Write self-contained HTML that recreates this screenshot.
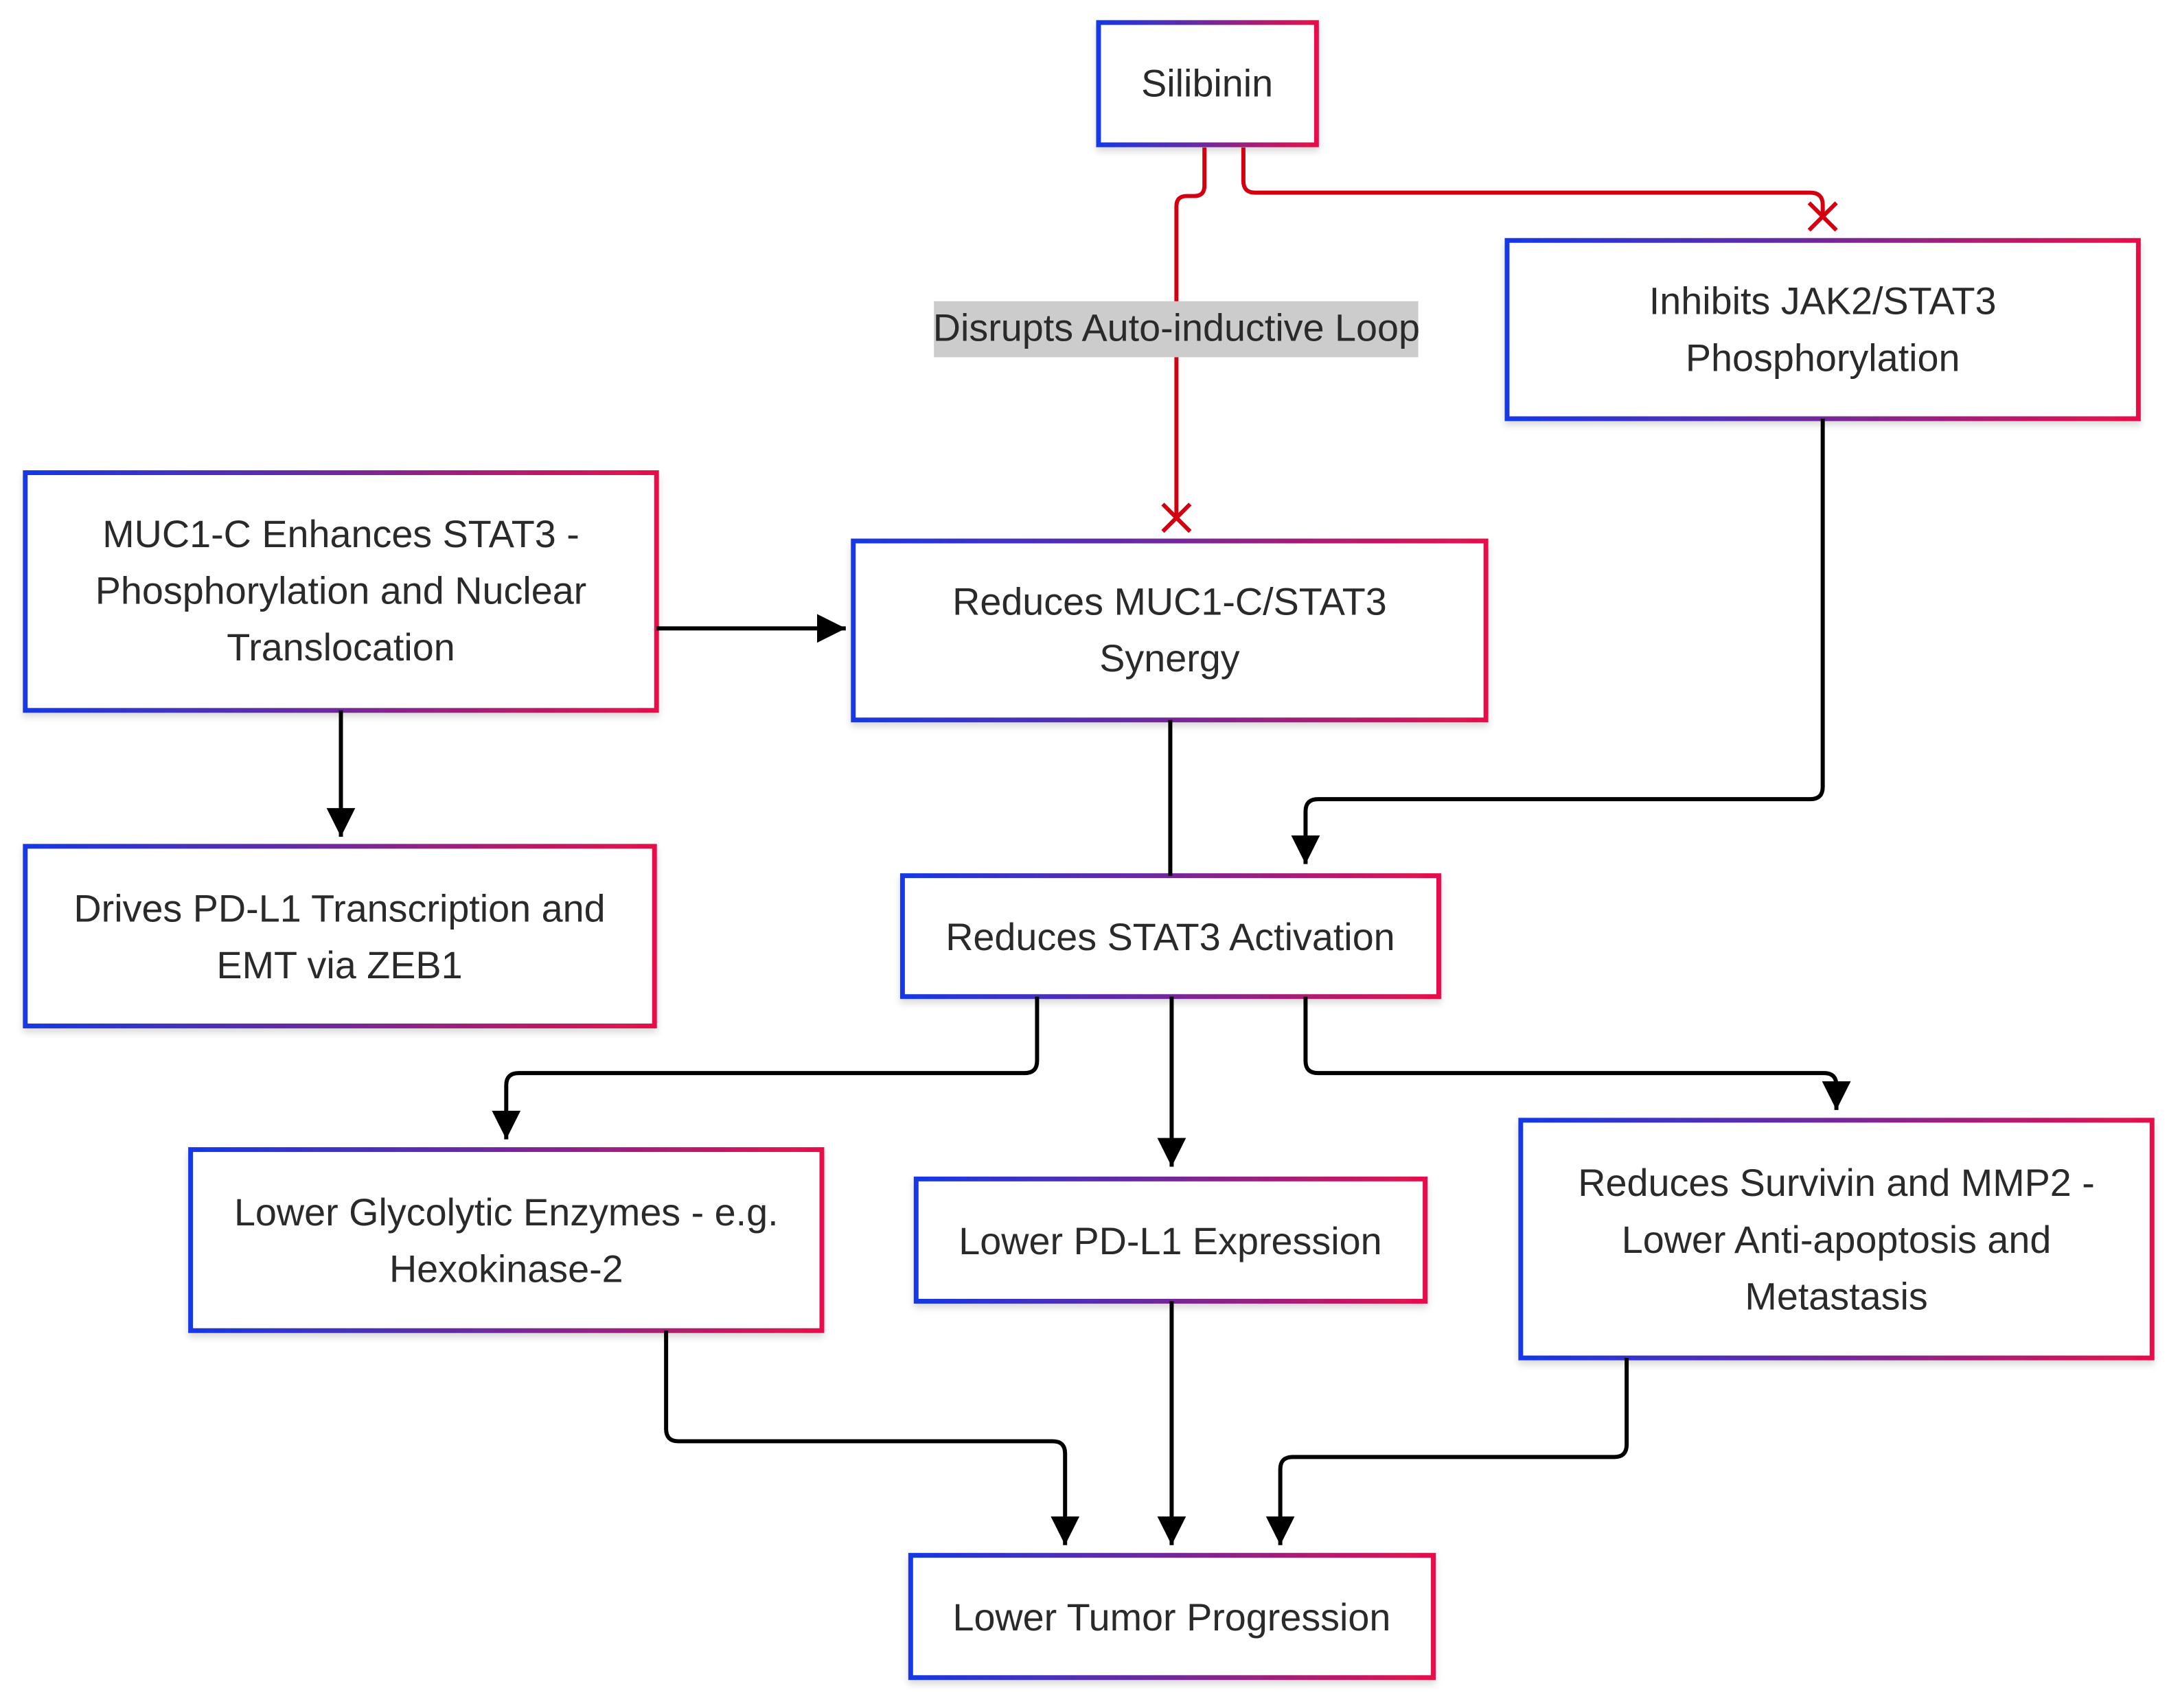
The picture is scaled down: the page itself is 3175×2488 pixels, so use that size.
<!DOCTYPE html>
<html><head><meta charset="utf-8"><style>
html,body{margin:0;padding:0;background:#fff;}
svg{display:block;}
text{font-family:"Liberation Sans",Arial,sans-serif;font-size:56px;fill:#2a2a2a;text-anchor:middle;}
</style></head><body>
<svg width="3175" height="2488" viewBox="0 0 3175 2488" xmlns="http://www.w3.org/2000/svg">
<defs>
<linearGradient id="g" x1="0" y1="0" x2="1" y2="0">
<stop offset="0" stop-color="#1538e6"/><stop offset="0.5" stop-color="#73289a"/><stop offset="1" stop-color="#e8104a"/>
</linearGradient>
<filter id="sh" x="-5%" y="-5%" width="110%" height="115%"><feDropShadow dx="0" dy="6" stdDeviation="5" flood-color="#000" flood-opacity="0.15"/></filter>
<marker id="a" viewBox="0 0 10 10" refX="10" refY="5" markerWidth="7" markerHeight="7" orient="auto" markerUnits="strokeWidth"><path d="M0,0L10,5L0,10z" fill="#000"/></marker>
</defs>
<g transform="scale(0.995)">
<g fill="#fff" stroke="url(#g)" stroke-width="7" filter="url(#sh)">
<rect x="1608" y="33" width="319" height="179"/>
<rect x="2206" y="352" width="924" height="261"/>
<rect x="37" y="692" width="924" height="348"/>
<rect x="1249" y="792" width="926" height="262"/>
<rect x="37" y="1239" width="921" height="263"/>
<rect x="1321" y="1282" width="785" height="177"/>
<rect x="279" y="1683" width="924" height="265"/>
<rect x="1341" y="1726" width="745" height="179"/>
<rect x="2226" y="1640" width="924" height="348"/>
<rect x="1333" y="2277" width="765" height="179"/>
</g>
<g fill="none" stroke="#d40010" stroke-width="6">
<path d="M1763,216 V272 Q1763,287 1748,287 H1737 Q1722,287 1722,302 V757"/>
<path d="M1820,216 V265 Q1820,282 1837,282 H2650 Q2668,282 2668,300 V315"/>
<path d="M2648,297 L2688,337 M2688,297 L2648,337"/>
<path d="M1702,738 L1742,778 M1742,738 L1702,778"/>
</g>
<rect x="1367" y="441" width="709" height="82" fill="#cccccc"/>
<text x="1722" y="499">Disrupts Auto-inductive Loop</text>
<g fill="none" stroke="#000" stroke-width="6" marker-end="url(#a)">
<path d="M961,920 H1238"/>
<path d="M499,1040 V1225"/>
<path d="M2668,613 V1152 Q2668,1170 2650,1170 H1929 Q1911,1170 1911,1188 V1265"/>
<path d="M1518,1459 V1553 Q1518,1571 1500,1571 H759 Q741,1571 741,1589 V1668"/>
<path d="M1715,1459 V1708"/>
<path d="M1911,1459 V1553 Q1911,1571 1929,1571 H2670 Q2688,1571 2688,1589 V1625"/>
<path d="M975,1948 V2092 Q975,2110 993,2110 H1541 Q1559,2110 1559,2128 V2262"/>
<path d="M1715,1905 V2262"/>
<path d="M2381,1988 V2115 Q2381,2133 2363,2133 H1892 Q1874,2133 1874,2151 V2262"/>
</g>
<path d="M1713,1054 V1282" stroke="#000" stroke-width="6"/>
<text x="1767" y="141">Silibinin</text>
<text x="2668" y="460">Inhibits JAK2/STAT3</text>
<text x="2668" y="543">Phosphorylation</text>
<text x="499" y="801">MUC1-C Enhances STAT3 -</text>
<text x="499" y="884">Phosphorylation and Nuclear</text>
<text x="499" y="967">Translocation</text>
<text x="1712" y="900">Reduces MUC1-C/STAT3</text>
<text x="1712" y="983">Synergy</text>
<text x="497" y="1349">Drives PD-L1 Transcription and</text>
<text x="497" y="1432">EMT via ZEB1</text>
<text x="1713" y="1391">Reduces STAT3 Activation</text>
<text x="741" y="1794">Lower Glycolytic Enzymes - e.g.</text>
<text x="741" y="1877">Hexokinase-2</text>
<text x="1713" y="1836">Lower PD-L1 Expression</text>
<text x="2688" y="1751">Reduces Survivin and MMP2 -</text>
<text x="2688" y="1834">Lower Anti-apoptosis and</text>
<text x="2688" y="1917">Metastasis</text>
<text x="1715" y="2387">Lower Tumor Progression</text>
</g>
</svg>
</body></html>
